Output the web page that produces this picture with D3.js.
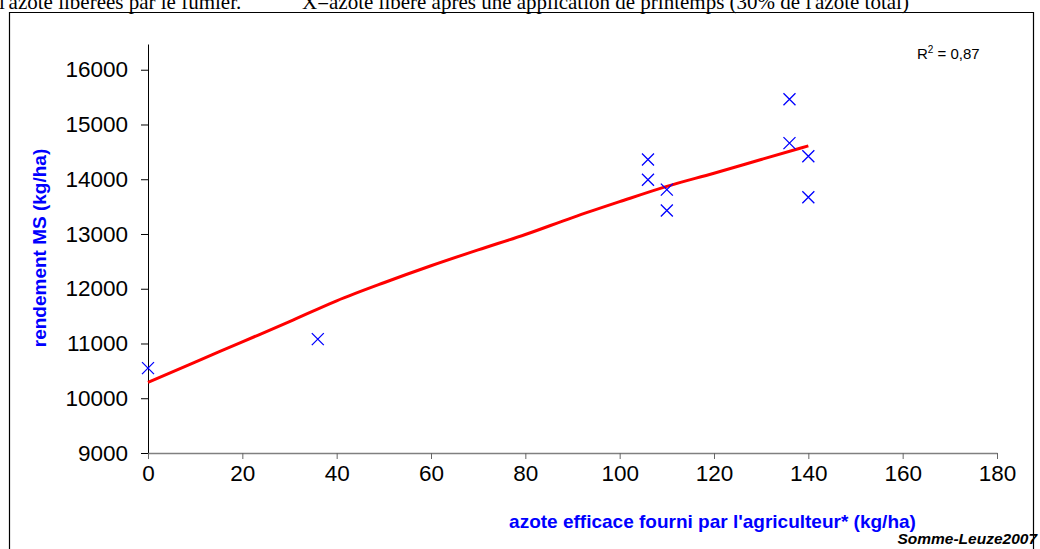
<!DOCTYPE html>
<html>
<head>
<meta charset="utf-8">
<script src="https://cdn.jsdelivr.net/npm/d3@7"></script>
<style>
  html, body { margin: 0; padding: 0; background: #fff; }
  svg { display: block; }
</style>
</head>
<body>
<svg id="chart" width="1040" height="549"></svg>
<script>
// ---- data ----
const nitrogen = [0, 36, 106, 106, 110, 110, 136, 136, 140, 140];
const yieldMS = [10550, 11080, 14360, 13990, 13810, 13430, 15460, 14660, 14420, 13670];
const trendX = [0, 10, 20, 30, 40, 50, 60, 70, 80, 90, 100, 110, 120, 130, 140];
const trendY = [10290, 10660, 11030, 11400, 11780, 12110, 12420, 12710, 12990, 13300, 13590, 13870, 14110, 14360, 14610];
const xTicks = [0, 20, 40, 60, 80, 100, 120, 140, 160, 180];
const yTicks = [9000, 10000, 11000, 12000, 13000, 14000, 15000, 16000];
const topTextLeft = "l'azote libérées par le fumier.";
const topTextRight = "X=azote libéré après une application de printemps (30% de l'azote total)";
const xTitle = "azote efficace fourni par l'agriculteur* (kg/ha)";
const yTitle = "rendement MS (kg/ha)";
const r2Text = "0,87";
const sourceText = "Somme-Leuze2007";

const svg = d3.select("#chart");
const sans = "'Liberation Sans', Arial, sans-serif";
const serif = "'Liberation Serif', 'Times New Roman', serif";

const x = d3.scaleLinear().domain([0, 180]).range([148, 997]);
const y = d3.scaleLinear().domain([9000, 16470]).range([453, 44]);

// top caption text (partly above the page edge, as in the reference)
svg.append("text").attr("x", -1).attr("y", 8.5)
  .attr("font-family", serif).attr("font-size", 21).attr("fill", "#000")
  .text(topTextLeft);
svg.append("text").attr("x", 302).attr("y", 8.5)
  .attr("font-family", serif).attr("font-size", 21).attr("fill", "#000")
  .text(topTextRight);

// outer frame
svg.append("path")
  .attr("d", "M9.5,560 V12.5 H1033.5 V560")
  .attr("fill", "none").attr("stroke", "#000").attr("stroke-width", 1.2);

// y axis
const yAxis = svg.append("g").attr("transform", "translate(148,0)")
  .call(d3.axisLeft(y).tickValues(yTicks).tickSize(7).tickPadding(13).tickSizeOuter(0).tickFormat(d3.format("d")));
yAxis.select(".domain").attr("stroke", "#000");
yAxis.selectAll(".tick line").attr("stroke", "#000");
yAxis.selectAll("text").attr("font-family", sans).attr("font-size", 22.5).attr("fill", "#000");

// x axis
const xAxis = svg.append("g").attr("transform", "translate(0,453)")
  .call(d3.axisBottom(x).tickValues(xTicks).tickSize(6).tickPadding(6).tickSizeOuter(0));
xAxis.select(".domain").attr("stroke", "#808080").attr("stroke-width", 1.5);
xAxis.selectAll(".tick line").attr("stroke", "#666");
xAxis.selectAll("text").attr("font-family", sans).attr("font-size", 22.5).attr("fill", "#000");

// trend line
svg.append("path")
  .datum(trendX.map((d, i) => [d, trendY[i]]))
  .attr("fill", "none").attr("stroke", "#ff0000").attr("stroke-width", 3)
  .attr("stroke-linejoin", "round")
  .attr("d", d3.line().curve(d3.curveMonotoneX).x(d => x(d[0])).y(d => y(d[1])));

// markers (X)
const s = 6;
svg.append("g").selectAll("path")
  .data(nitrogen.map((d, i) => [d, yieldMS[i]]))
  .join("path")
  .attr("transform", d => `translate(${x(d[0])},${y(d[1])})`)
  .attr("d", `M${-s},${-s}L${s},${s}M${-s},${s}L${s},${-s}`)
  .attr("stroke", "#0000ff").attr("stroke-width", 1.3).attr("fill", "none");

// R² label
const r2 = svg.append("text").attr("x", 917).attr("y", 59)
  .attr("font-family", sans).attr("font-size", 15).attr("fill", "#000");
r2.append("tspan").text("R");
r2.append("tspan").attr("font-size", 10).attr("dy", -6).text("2");
r2.append("tspan").attr("dy", 6).text(" = " + r2Text);

// axis titles
svg.append("text").attr("x", 712.5).attr("y", 528)
  .attr("text-anchor", "middle").attr("font-family", sans).attr("font-weight", "bold")
  .attr("font-size", 19).attr("fill", "#0000ff").text(xTitle);
svg.append("text").attr("transform", "translate(46,248) rotate(-90)")
  .attr("text-anchor", "middle").attr("font-family", sans).attr("font-weight", "bold")
  .attr("font-size", 19).attr("fill", "#0000ff").text(yTitle);

// source
svg.append("text").attr("x", 1037).attr("y", 544)
  .attr("text-anchor", "end").attr("font-family", sans).attr("font-weight", "bold")
  .attr("font-style", "italic").attr("font-size", 15.5).attr("fill", "#000").text(sourceText);
</script>
</body>
</html>
